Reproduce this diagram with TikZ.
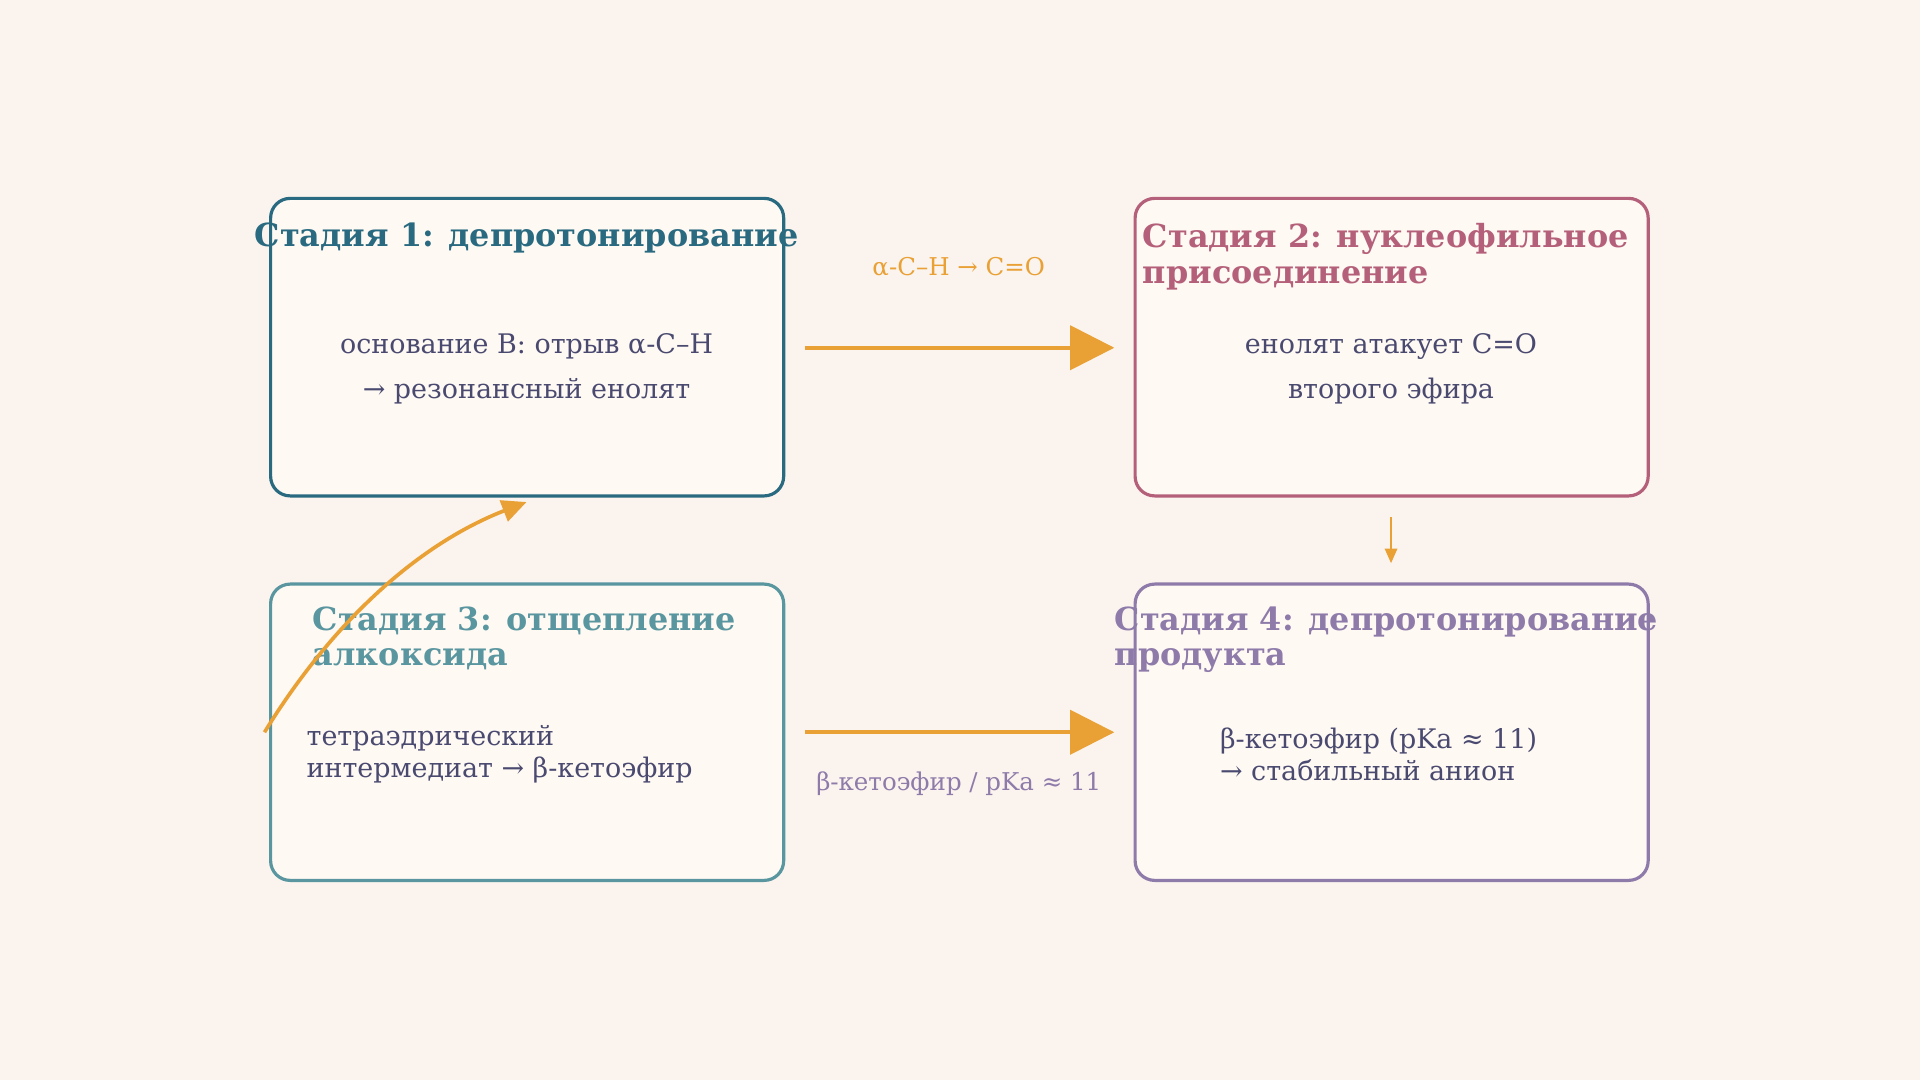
\documentclass[tikz,border=0pt]{standalone}
\usepackage{fontspec}
\setmainfont{DejaVu Serif}
\usetikzlibrary{arrows.meta}
\definecolor{bg}{HTML}{FBF4EE}
\definecolor{fillc}{HTML}{FEF9F3}
\definecolor{ca}{HTML}{2A6A80}
\definecolor{cb}{HTML}{B5607A}
\definecolor{cc}{HTML}{5A96A0}
\definecolor{cd}{HTML}{8E7BAA}
\definecolor{orng}{HTML}{E9A035}
\definecolor{txt}{HTML}{4A4A70}
\begin{document}
\begin{tikzpicture}[x=0.5pt,y=-0.5pt,
 box/.style={draw=#1,line width=1.3pt,fill=fillc,rounded corners=8pt},
 ttl/.style={text=#1,font=\fontsize{13}{14.5}\selectfont\bfseries,inner sep=0pt},
 body/.style={text=txt,font=\fontsize{11}{13}\selectfont,inner sep=0pt},
 big/.style={draw=orng,line width=1.5pt,-{Triangle[length=18pt,width=18pt]}}]
\fill[bg] (0,0) rectangle (1568,882);
\draw[box=ca] (221,162) rectangle (640,405);
\draw[box=cb] (927,162) rectangle (1346,405);
\draw[box=cc] (221,477) rectangle (640,719);
\draw[box=cd] (927,477) rectangle (1346,719);
\node[ttl=ca] (t1) at (430,194) {Стадия 1: депротонирование};
\node[ttl=cb,anchor=north west,align=left] (t2) at (933,182) {Стадия 2: нуклеофильное\\присоединение};
\node[ttl=cc,anchor=north west,align=left] (t3) at (255,495) {Стадия 3: отщепление\\алкоксида};
\node[ttl=cd,anchor=north west,align=left] (t4) at (910,495) {Стадия 4: депротонирование\\продукта};
\node[body,align=center,font=\fontsize{11}{18.5}\selectfont] (b1) at (430,301) {основание B: отрыв α-C–H\\→ резонансный енолят};
\node[body,align=center,font=\fontsize{11}{18.5}\selectfont] (b2) at (1136,301) {енолят атакует C=O\\второго эфира};
\node[body,anchor=north west,align=left] (b3) at (250,592) {тетраэдрический\\интермедиат → β-кетоэфир};
\node[body,anchor=north west,align=left] (b4) at (996,594) {β-кетоэфир (pKa ≈ 11)\\→ стабильный анион};
\coordinate (a1) at (657,284); \coordinate (a2) at (910,284);
\coordinate (c1) at (657,598); \coordinate (c2) at (910,598);
\coordinate (d1) at (1136,422); \coordinate (d2) at (1136,460);
\coordinate (e1) at (216,598); \coordinate (e2) at (430,410);
\draw[big] (a1) -- (a2);
\draw[big] (c1) -- (c2);
\node[text=orng,font=\fontsize{10}{12}\selectfont] (l1) at (783,218) {α-C–H → C=O};
\node[text=cd,font=\fontsize{10}{12}\selectfont] (l2) at (783,640) {β-кетоэфир / pKa ≈ 11};
\draw[orng,line width=1pt,-{Triangle[length=6pt,width=5pt]}] (d1) -- (d2);
\draw[orng,line width=1.5pt,-{Triangle[length=10pt,width=9pt]}] (e1) .. controls (270,510) and (340,445) .. (e2);
\end{tikzpicture}
\end{document}
